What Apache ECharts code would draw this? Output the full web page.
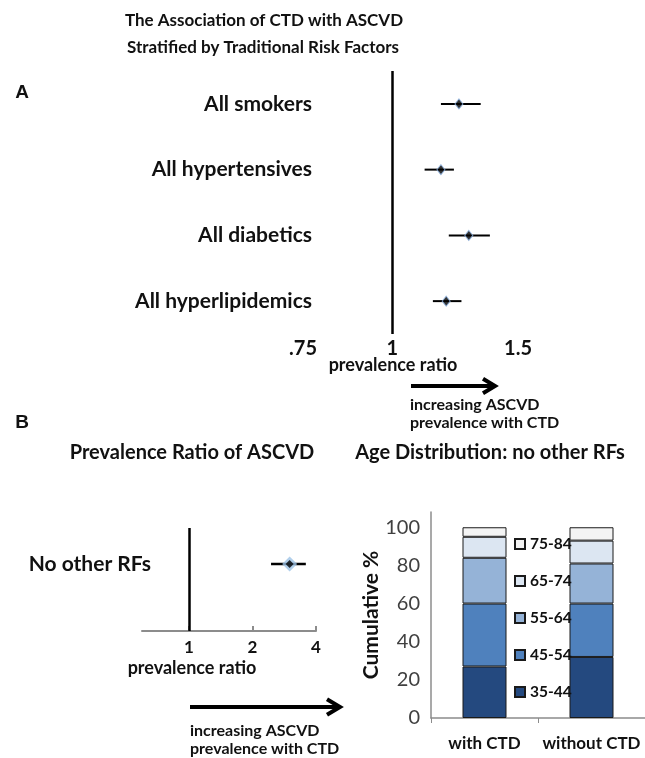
<!DOCTYPE html>
<html><head><meta charset="utf-8">
<script src="https://cdn.jsdelivr.net/npm/echarts@6/dist/echarts.min.js"></script>
<style>html,body{margin:0;padding:0;background:#fff}#c{width:645px;height:758px}</style>
</head><body><div id="c"></div>
<script>
// Panel A data
const groupsA = ['All smokers', 'All hypertensives', 'All diabetics', 'All hyperlipidemics'];
const prA = [1.24, 1.17, 1.28, 1.19];
const loA = [1.17, 1.11, 1.20, 1.14];
const hiA = [1.33, 1.22, 1.37, 1.25];
const ticksA = [0.75, 1, 1.5];
const tickLabelsA = ['.75', '1', '1.5'];

// Panel B (left) data
const groupB = ['No other RFs'];
const prB = [3.0];
const loB = [2.45];
const hiB = [3.58];
const ticksB = [1, 2, 4];
const tickLabelsB = ['1', '2', '4'];

// Panel B (right) data
const ageCats = ['with CTD', 'without CTD'];
const ageGroups = ['35-44', '45-54', '55-64', '65-74', '75-84'];
const age3544 = [27, 32];
const age4554 = [33, 28];
const age5564 = [24, 21];
const age6574 = [11, 12];
const age7584 = [5, 7];
const yTicks = [0, 20, 40, 60, 80, 100];

const ageValues = [age3544, age4554, age5564, age6574, age7584];
const ageColors = ['#24497f', '#4f81bd', '#95b3d7', '#dce6f2', '#f4f4f4'];

const L = Math.log;
const FONT = 'Lato';
function labelFor(ticks, labels) {
  return v => {
    let best = 0, bd = Infinity;
    ticks.forEach((t, i) => { const d = Math.abs(L(t) - v); if (d < bd) { bd = d; best = i; } });
    return labels[best];
  };
}
function errBar(lw) {
  return function (params, api) {
    const p1 = api.coord([api.value(0), api.value(2)]);
    const p2 = api.coord([api.value(1), api.value(2)]);
    return { type: 'line', shape: { x1: p1[0], y1: p1[1], x2: p2[0], y2: p2[1] },
      style: { stroke: '#000', lineWidth: lw } };
  };
}

const chart = echarts.init(document.getElementById('c'), null, { renderer: 'canvas' });

function txt(t, x, y, size, align, family) {
  return { type: 'text', x: x, y: y, silent: true,
    style: { text: t, font: 'bold ' + size + 'px ' + (family || FONT), fill: '#111',
      textAlign: align || 'center', textVerticalAlign: 'middle' } };
}
function arrow(x1, x2, y, lw, head) {
  return [
    { type: 'line', silent: true, shape: { x1: x1, y1: y, x2: x2 - 2, y2: y }, style: { stroke: '#000', lineWidth: lw } },
    { type: 'polyline', silent: true, shape: { points: [[x2 - head, y - head * 0.6], [x2, y], [x2 - head, y + head * 0.6]] },
      style: { stroke: '#000', lineWidth: lw, fill: null, lineJoin: 'miter' } }
  ];
}

const option = {
  backgroundColor: '#fff',
  animation: false,
  textStyle: { fontFamily: FONT },
  grid: [
    { left: 303, top: 71, width: 215, height: 263 },
    { left: 142, top: 528, width: 174, height: 103 },
    { left: 431, right: -6, top: 512, bottom: 40 }
  ],
  xAxis: [
    { gridIndex: 0, type: 'value', min: L(0.75), max: L(1.5), splitLine: { show: false },
      axisLine: { lineStyle: { color: '#8c8c8c', width: 2 } },
      axisTick: { customValues: ticksA.map(L), length: 5, inside: true, lineStyle: { color: '#8c8c8c', width: 2 } },
      axisLabel: { customValues: ticksA.map(L), formatter: labelFor(ticksA, tickLabelsA), margin: 5,
        fontSize: 20, fontWeight: 'bold', color: '#111', fontFamily: FONT } },
    { gridIndex: 1, type: 'value', min: L(0.6), max: L(4), splitLine: { show: false },
      axisLine: { lineStyle: { color: '#8c8c8c', width: 2 } },
      axisTick: { customValues: ticksB.map(L), length: 5, inside: true, lineStyle: { color: '#8c8c8c', width: 2 } },
      axisLabel: { customValues: ticksB.map(L), formatter: labelFor(ticksB, tickLabelsB), margin: 8,
        fontSize: 17, fontWeight: 'bold', color: '#111', fontFamily: FONT } },
    { gridIndex: 2, type: 'category', data: ageCats,
      axisLine: { lineStyle: { color: '#8c8c8c', width: 1.5 } },
      axisTick: { show: true, length: 5, lineStyle: { color: '#8c8c8c' } },
      axisLabel: { interval: 0, hideOverlap: false, margin: 17, fontSize: 17, fontWeight: 'bold', color: '#111', fontFamily: FONT } }
  ],
  yAxis: [
    { gridIndex: 0, type: 'category', data: groupsA, inverse: true,
      axisLine: { show: false }, axisTick: { show: false }, splitLine: { show: false },
      axisLabel: { margin: -9, fontSize: 21, fontWeight: 'bold', color: '#111', fontFamily: FONT } },
    { gridIndex: 1, type: 'value', min: 0, max: 1,
      axisLine: { show: false }, axisTick: { show: false }, splitLine: { show: false },
      axisLabel: { customValues: [0.65], formatter: () => groupB[0], margin: -9,
        fontSize: 21, fontWeight: 'bold', color: '#111', fontFamily: FONT } },
    { gridIndex: 2, type: 'value', min: 0, max: 108, splitLine: { show: false },
      axisLine: { show: true, lineStyle: { color: '#8c8c8c', width: 1.5 } },
      axisTick: { show: false },
      axisLabel: { customValues: yTicks, margin: 11, fontSize: 20, color: '#404040', fontFamily: FONT },
      name: 'Cumulative %', nameLocation: 'middle', nameRotate: 90, nameGap: 42,
      nameTextStyle: { fontSize: 21, fontWeight: 'bold', color: '#111', fontFamily: FONT } }
  ],
  legend: {
    orient: 'vertical', left: 514, top: 536, padding: 0, itemWidth: 10, itemHeight: 10, itemGap: 21,
    icon: 'rect', data: ageGroups.slice().reverse(), selectedMode: false,
    textStyle: { fontSize: 15.5, fontWeight: 'bold', color: '#111', fontFamily: FONT }
  },
  series: [
    { type: 'custom', xAxisIndex: 0, yAxisIndex: 0, renderItem: errBar(2), silent: true,
      data: groupsA.map((g, i) => [L(loA[i]), L(hiA[i]), i]) },
    { type: 'scatter', xAxisIndex: 0, yAxisIndex: 0, symbol: 'diamond', symbolSize: [8, 10], silent: true,
      itemStyle: { color: '#000', borderColor: '#8db3e2', borderWidth: 1 },
      data: groupsA.map((g, i) => [L(prA[i]), i]),
      markLine: { silent: true, symbol: 'none', label: { show: false },
        lineStyle: { color: '#000', width: 2.5, type: 'solid' }, data: [{ xAxis: 0 }] } },
    { type: 'custom', xAxisIndex: 1, yAxisIndex: 1, renderItem: errBar(2.5), silent: true,
      data: groupB.map((g, i) => [L(loB[i]), L(hiB[i]), 0.65]) },
    { type: 'scatter', xAxisIndex: 1, yAxisIndex: 1, symbol: 'diamond', symbolSize: 15, silent: true,
      itemStyle: { color: '#9dc3e6' },
      data: groupB.map((g, i) => [L(prB[i]), 0.65]),
      markLine: { silent: true, symbol: 'none', label: { show: false },
        lineStyle: { color: '#000', width: 2.5, type: 'solid' }, data: [{ xAxis: 0 }] } },
    { type: 'scatter', xAxisIndex: 1, yAxisIndex: 1, symbol: 'diamond', symbolSize: 8, silent: true,
      itemStyle: { color: '#000' }, z: 5,
      data: groupB.map((g, i) => [L(prB[i]), 0.65]) }
  ].concat(ageGroups.map((g, k) => ({
    name: g, type: 'bar', xAxisIndex: 2, yAxisIndex: 2, stack: 'age', barWidth: 44, silent: true,
    itemStyle: { color: ageColors[k], borderColor: '#1a1a1a', borderWidth: 1 },
    data: ageValues[k]
  }))),
  graphic: [
    txt('The Association of CTD with ASCVD', 264, 21, 17),
    txt('Stratified by Traditional Risk Factors', 263, 48, 17),
    txt('A', 22, 93, 19, 'center', 'Liberation Sans'),
    txt('prevalence ratio', 393, 365, 18),
    txt('increasing ASCVD', 410, 405, 16, 'left'),
    txt('prevalence with CTD', 410, 423, 16, 'left'),
    txt('B', 22, 423, 19, 'center', 'Liberation Sans'),
    txt('Prevalence Ratio of ASCVD', 192, 453, 20),
    txt('Age Distribution: no other RFs', 490, 453, 20),
    txt('prevalence ratio', 192, 668, 18),
    txt('increasing ASCVD', 190, 731, 16, 'left'),
    txt('prevalence with CTD', 190, 749, 16, 'left')
  ].concat(arrow(411, 495, 386, 4, 12)).concat(arrow(190, 340, 707, 4, 13))
};
chart.setOption(option);
</script>
</body></html>
